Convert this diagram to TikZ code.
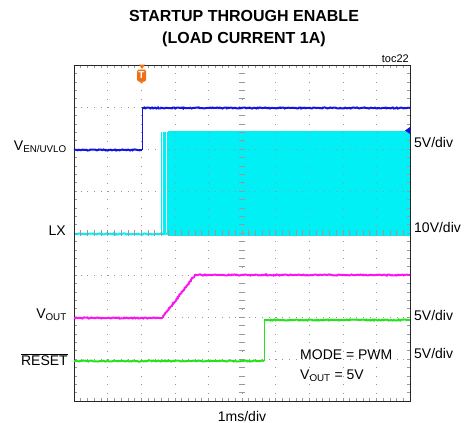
\documentclass[tikz,border=0pt]{standalone}
\usepackage{fontspec}
\setmainfont{Liberation Sans}
\usetikzlibrary{decorations.pathmorphing}

\definecolor{chblue}{RGB}{20,20,225}
\definecolor{chcyan}{RGB}{0,240,245}
\definecolor{chmag}{RGB}{250,20,240}
\definecolor{chgreen}{RGB}{40,225,30}
\definecolor{trigorange}{RGB}{240,110,20}

\tikzset{
  lbl/.style={font=\fontsize{14}{14}\selectfont, inner sep=0pt},
  trace/.style={line width=2pt, decorate,
    decoration={random steps, segment length=1.2pt, amplitude=0.55pt}},
  gridline/.style={gray!80, line width=0.6pt},
  tick/.style={gray!80, line width=0.5pt}
}

\begin{document}
\begin{tikzpicture}[x=1pt,y=-1pt]
        \useasboundingbox (0,0) rectangle (467,423);
        \pgfmathsetseed{7}

        % title
        \node[font=\bfseries\fontsize{16}{16}\selectfont, anchor=base, inner sep=0pt]
          (title1) at (244,22) {STARTUP THROUGH ENABLE};
        \node[font=\bfseries\fontsize{16}{16}\selectfont, anchor=base, inner sep=0pt]
          (title2) at (244,43) {(LOAD CURRENT 1A)};
        \node[font=\fontsize{11}{11}\selectfont, anchor=base east, inner sep=0pt]
          (toc) at (409,62) {toc22};

        % LX switching
        \fill[chcyan] (168,131) rectangle (410,236);
        \foreach \x in {161.5,162.8,164,165.5,166.8}
          \draw[chcyan, line width=0.6pt] (\x,234) -- (\x,132);
        \draw[trace, chcyan] (74,234) -- (168,234);

        % grid
        \foreach \k in {1,...,9}
          \draw[gridline, dash pattern=on 0.8pt off 7.6pt] ({74+33.6*\k},65) -- ({74+33.6*\k},401);
        \foreach \j in {1,...,7}
          \draw[gridline, dash pattern=on 0.8pt off 5.92pt] (74,{65+42*\j}) -- (410,{65+42*\j});
        \foreach \i in {1,...,39} {
          \draw[tick] (239,{65+8.4*\i}) -- (245,{65+8.4*\i});
          \draw[tick] (74,{65+8.4*\i}) -- (77,{65+8.4*\i});
          \draw[tick] (407,{65+8.4*\i}) -- (410,{65+8.4*\i});
        }
        \foreach \i in {1,...,49} {
          \draw[tick] ({74+6.72*\i},230) -- ({74+6.72*\i},236);
          \draw[tick] ({74+6.72*\i},65) -- ({74+6.72*\i},68);
          \draw[tick] ({74+6.72*\i},398) -- ({74+6.72*\i},401);
        }
        \draw[black!85, line width=0.8pt] (74,65) rectangle (410,401);

        % traces
        \draw[trace, chblue] (74,150) -- (142,150);
        \draw[chblue, line width=0.8pt] (142,150) -- (142,108);
        \draw[trace, chblue] (142,108) -- (410,108);
        \draw[trace, chmag] (74,318) -- (162,318) -- (195,275) -- (410,275);
        \draw[trace, chgreen] (74,361) -- (264,361);
        \draw[chgreen, line width=0.8pt] (264,361) -- (264,320);
        \draw[trace, chgreen] (264,320) -- (410,320);

        % markers
        \fill[trigorange] (139,64.5) -- (145,64.5) -- (142,69) -- cycle;
        \node[fill=trigorange, rounded corners=1.5pt, text=white, inner sep=0pt,
          minimum width=9pt, minimum height=12pt,
          font=\bfseries\fontsize{10}{10}\selectfont] (trig) at (141.5,75.5) {T};
        \fill[trigorange] (139,81.3) -- (144,81.3) -- (141.5,83.5) -- cycle;
        \fill[chblue] (410,127) -- (410,134) -- (405,130.5) -- cycle;

        % channel labels
        \node[lbl, anchor=base east] (ven) at (67,150) {V\textsubscript{EN/UVLO}};
        \node[lbl, anchor=base east] (lx) at (66,235) {LX};
        \node[lbl, anchor=base east] (vout) at (67,318) {V\textsubscript{OUT}};
        \node[lbl, anchor=base east] (reset) at (68,365) {$\overline{\mbox{RESET}}$};
        \node[lbl, anchor=base west] (sc1) at (414,147) {5V/div};
        \node[lbl, anchor=base west] (sc2) at (414,232) {10V/div};
        \node[lbl, anchor=base west] (sc3) at (414,320) {5V/div};
        \node[lbl, anchor=base west] (sc4) at (414,358) {5V/div};
        \node[lbl, anchor=base west] (mode) at (300,359) {MODE = PWM};
        \node[lbl, anchor=base west] (vset) at (300,379) {V\textsubscript{OUT} = 5V};
        \node[lbl, anchor=base] (tdiv) at (242,421) {1ms/div};
\end{tikzpicture}
\end{document}
